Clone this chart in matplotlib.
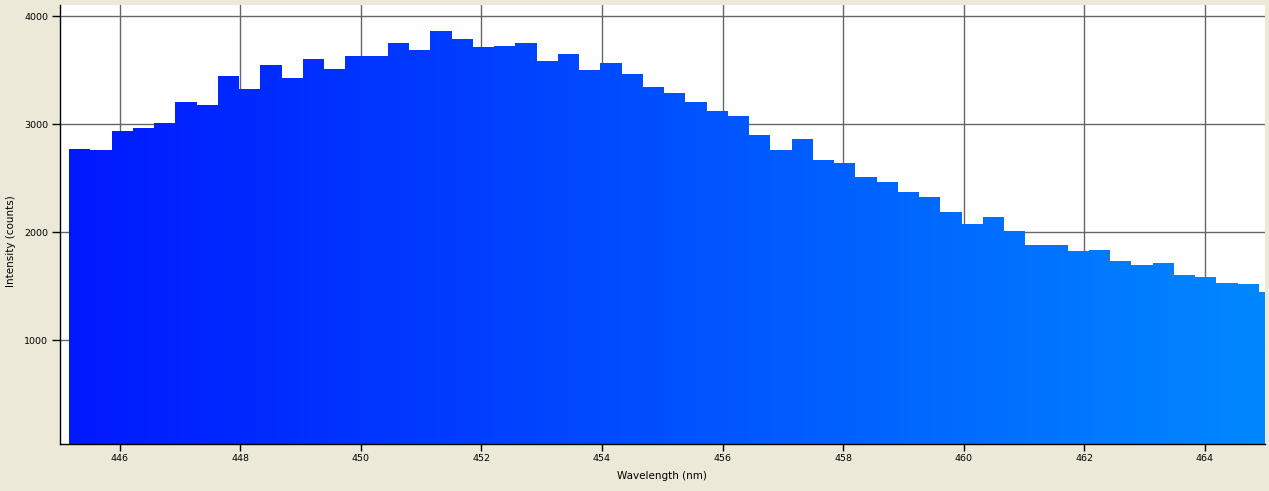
import matplotlib
matplotlib.use("Agg")
import matplotlib.pyplot as plt
import numpy as np
from matplotlib.colors import LinearSegmentedColormap

# spectrum bins
bin_start = 445.16   # nm, left edge of first bin
bin_width = 0.3525   # nm
intensity = [2770, 2760, 2936, 2964, 3010, 3204, 3177, 3445, 3325, 3547,
             3426, 3602, 3510, 3630, 3630, 3750, 3685, 3861, 3787, 3713,
             3722, 3750, 3584, 3648, 3500, 3565, 3463, 3343, 3288, 3204,
             3121, 3075, 2899, 2760, 2862, 2668, 2640, 2511, 2464, 2372,
             2326, 2187, 2076, 2141, 2011, 1882, 1882, 1826, 1835, 1734,
             1697, 1715, 1604, 1586, 1530, 1521, 1447]
x_ticks = [446, 448, 450, 452, 454, 456, 458, 460, 462, 464]
y_ticks = [1000, 2000, 3000, 4000]

edges = bin_start + bin_width * np.arange(len(intensity) + 1)

bg = "#ECE9D8"
fig = plt.figure(figsize=(12.69, 4.91), dpi=100, facecolor=bg)
ax = fig.add_axes([59.5 / 1269, 47 / 491, (1265 - 59.5) / 1269, (444 - 5) / 491])
ax.set_facecolor("white")

xmin, xmax = 445.0, 465.0
ymin, ymax = 41, 4102

# step outline used as clip for the gradient fill
patch = ax.stairs(intensity, edges, fill=True, baseline=0,
                  facecolor="none", edgecolor="none", zorder=2)
cmap = LinearSegmentedColormap.from_list("blu", ["#0018FF", "#0088FF"])
grad = np.linspace(0, 1, 512).reshape(1, -1)
im = ax.imshow(grad, cmap=cmap, extent=[xmin, xmax, 0, ymax],
               aspect="auto", zorder=2, interpolation="bilinear")
im.set_clip_path(patch)
im.set_clip_box(ax.bbox)
ax.set_xlim(xmin, xmax)
ax.set_ylim(ymin, ymax)

ax.set_xticks(x_ticks)
ax.set_yticks(y_ticks)
ax.grid(True, color="#666666", linewidth=1.0, zorder=0)
ax.set_axisbelow(True)

for s in ["top", "right"]:
    ax.spines[s].set_visible(False)
for s in ["left", "bottom"]:
    ax.spines[s].set_color("black")
    ax.spines[s].set_linewidth(1.0)

ax.tick_params(axis="x", length=5, width=1, pad=2.5, labelsize=6.8, colors="black")
ax.tick_params(axis="y", length=6, width=1, pad=2, labelsize=6.8, colors="black")

fig.text(662 / 1269, 1 - 476 / 491, "Wavelength (nm)", ha="center", va="center",
         fontsize=7.5)
fig.text(11 / 1269, 1 - 241 / 491, "Intensity (counts)", ha="center", va="center",
         rotation=90, fontsize=7.5)

fig.savefig("out.png", dpi=100, facecolor=bg)
